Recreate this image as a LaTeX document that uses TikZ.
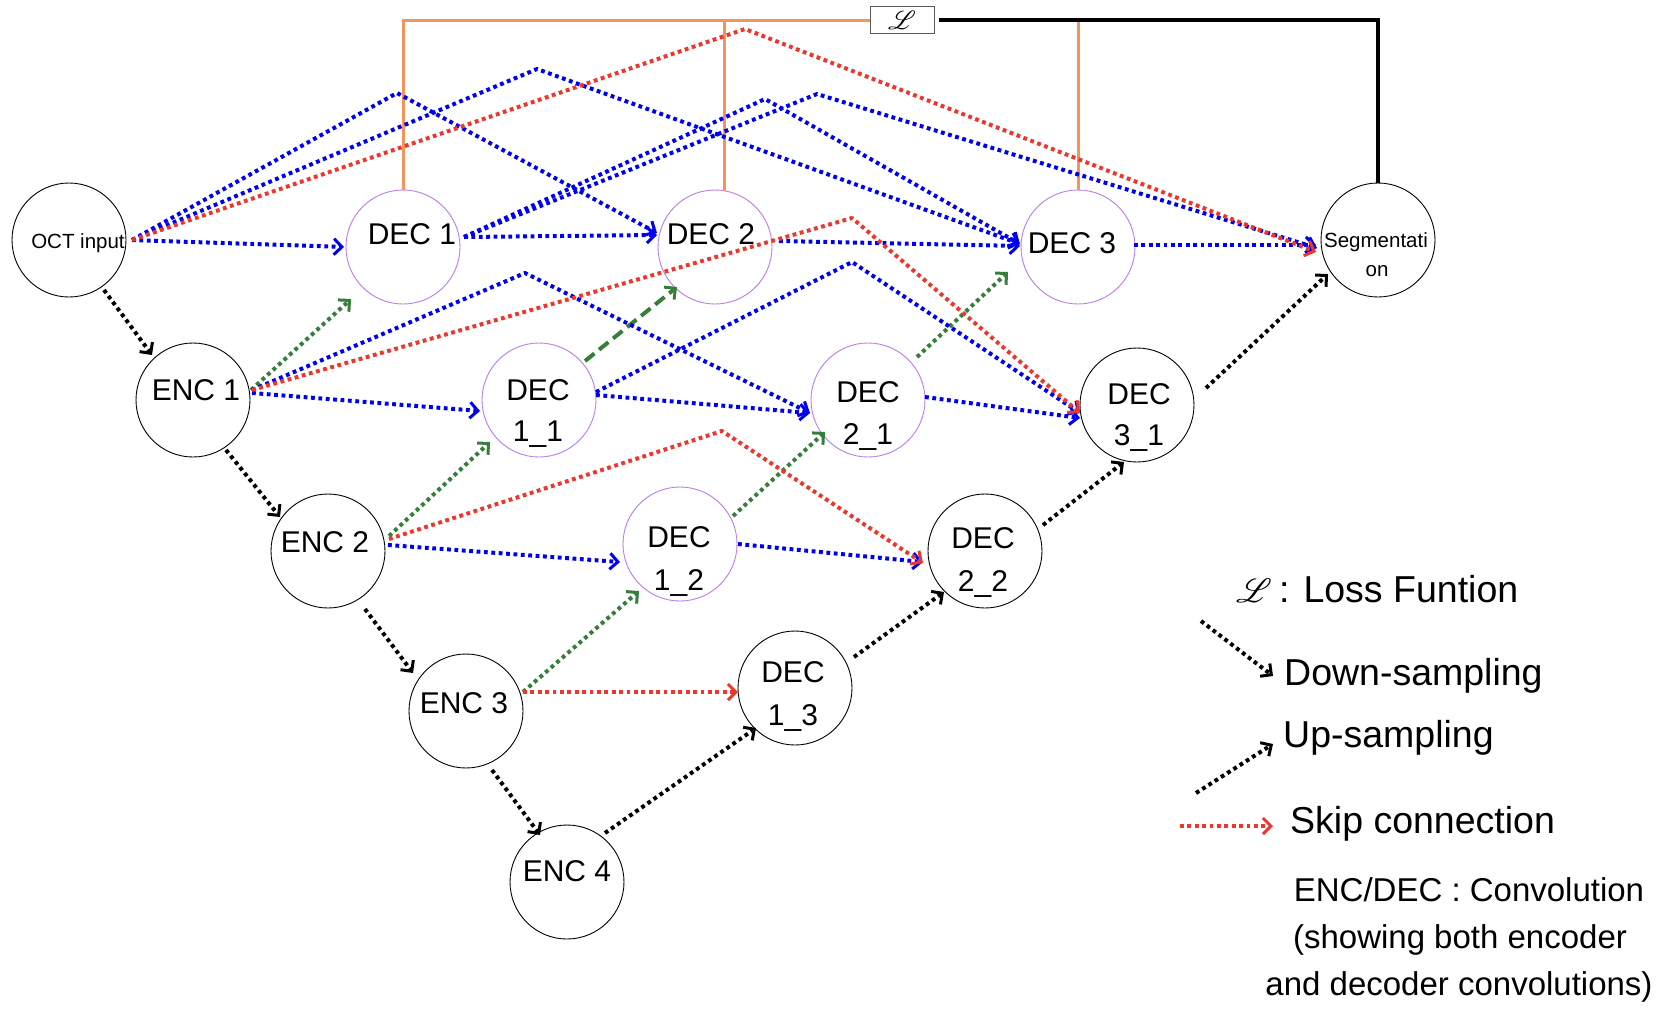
\documentclass[tikz,border=0pt]{standalone}
\usepackage{fontspec}
\setmainfont{Liberation Sans}
\usepackage{mathrsfs}
\usetikzlibrary{arrows.meta,calc}
\definecolor{cblue}{RGB}{0,0,240}
\definecolor{cred}{RGB}{235,55,45}
\definecolor{cgreen}{RGB}{55,125,60}
\definecolor{cpurple}{RGB}{187,125,230}
\definecolor{corange}{RGB}{241,149,92}
\begin{document}
\begin{tikzpicture}[x=1pt,y=-1pt,
  circ/.style={circle,draw=black,line width=0.9pt,minimum size=114pt,inner sep=0pt},
  pcirc/.style={circ,draw=cpurple},
  lab/.style={font=\fontsize{30}{36}\selectfont,anchor=base,inner sep=0pt},
  sml/.style={font=\fontsize{20.5}{24}\selectfont,anchor=base,inner sep=0pt},
  leg/.style={font=\fontsize{37.5}{42}\selectfont,anchor=base west,inner sep=0pt},
  legc/.style={font=\fontsize{33}{40}\selectfont,anchor=base,inner sep=0pt},
  ahead/.style={-{Straight Barb[length=8pt,width=16pt,line width=3pt]}},
  conn/.style={line width=4pt,dash pattern=on 3.8pt off 3.6pt,line join=round,ahead},
  bl/.style={conn,draw=cblue},
  rd/.style={conn,draw=cred},
  gr/.style={conn,draw=cgreen},
  grd/.style={conn,draw=cgreen,dash pattern=on 12pt off 6pt},
  bk/.style={conn,draw=black},
  orng/.style={draw=corange,line width=3pt},
  blk/.style={draw=black,line width=4pt}]
\useasboundingbox (0,0) rectangle (1674,1013);

% nodes
\node[circ]  (oct)  at (69,240) {};
\node[pcirc] (dec1) at (403,247) {};
\node[pcirc] (dec2) at (715,247) {};
\node[pcirc] (dec3) at (1078,247) {};
\node[circ]  (seg)  at (1378,240) {};
\node[circ]  (enc1) at (193,400) {};
\node[pcirc] (d11)  at (539,400) {};
\node[pcirc] (d21)  at (868,400) {};
\node[circ]  (d31)  at (1137,405) {};
\node[circ]  (enc2) at (328,551) {};
\node[pcirc] (d12)  at (680,544) {};
\node[circ]  (d22)  at (985,551) {};
\node[circ]  (enc3) at (466,711) {};
\node[circ]  (d13)  at (795,688) {};
\node[circ]  (enc4) at (567,882) {};

% labels
\node[sml] (toct) at (78,248) {OCT input};
\node[lab] (tdec1) at (412,244) {DEC 1};
\node[lab] (tdec2) at (711,244) {DEC 2};
\node[lab] (tdec3) at (1072,253) {DEC 3};
\node[sml] (tseg1) at (1376,247) {Segmentati};
\node[sml] (tseg2) at (1377,276) {on};
\node[lab] (tenc1) at (196,400) {ENC 1};
\node[lab] (tenc2) at (325,552) {ENC 2};
\node[lab] (tenc3) at (464,713) {ENC 3};
\node[lab] (tenc4) at (567,881) {ENC 4};
\node[lab] (td11a) at (538,400) {DEC};
\node[lab] (td11b) at (538,441) {1\_1};
\node[lab] (td21a) at (868,402) {DEC};
\node[lab] (td21b) at (868,444) {2\_1};
\node[lab] (td31a) at (1139,404) {DEC};
\node[lab] (td31b) at (1139,445) {3\_1};
\node[lab] (td12a) at (679,547) {DEC};
\node[lab] (td12b) at (679,590) {1\_2};
\node[lab] (td22a) at (983,548) {DEC};
\node[lab] (td22b) at (983,591) {2\_2};
\node[lab] (td13a) at (793,682) {DEC};
\node[lab] (td13b) at (793,725) {1\_3};

% loss box and lines
\node[draw=gray!70!black,line width=1pt,fill=white,minimum width=64pt,minimum height=27pt,inner sep=0pt] (loss) at (902,20) {\scalebox{1.05}{\fontsize{24.88}{30}\selectfont$\mathscr{L}$}};
\draw[orng] (dec1.north) |- (loss.west);
\draw[orng] ($(dec2.north)+(9,1)$) |- (loss.west);
\draw[orng] (dec3.north) -- (dec3.north |- loss.east);
\draw[blk] ($(loss.east)+(4,0)$) -| (seg.north);

% bend points
\coordinate (p1) at (397,93);
\coordinate (p2) at (537,69);
\coordinate (p3) at (745,29);
\coordinate (p4) at (765,99);
\coordinate (p5) at (817,94);
\coordinate (p6) at (525,273);
\coordinate (p7) at (852,262);
\coordinate (p8) at (852,218);
\coordinate (p9) at (722,431);

% black: down/up sampling
\draw[bk] ($(oct)+(35,50)$) -- ($(enc1)+(-41,-45)$);
\draw[bk] ($(enc1)+(33,50)$) -- ($(enc2)+(-48,-34)$);
\draw[bk] ($(enc2)+(37,58)$) -- ($(enc3)+(-53,-38)$);
\draw[bk] ($(enc3)+(26,59)$) -- ($(enc4)+(-27,-47)$);
\draw[bk] ($(enc4)+(38,-49)$) -- ($(d13)+(-39,40)$);
\draw[bk] ($(d13)+(59,-31)$) -- ($(d22)+(-41,41)$);
\draw[bk] ($(d22)+(58,-26)$) -- ($(d31)+(-13,57)$);
\draw[bk] ($(d31)+(69,-17)$) -- ($(seg)+(-50,34)$);

% green: up-sampling
\draw[gr]  ($(enc1)+(58,-10)$) -- ($(dec1)+(-52,52)$);
\draw[grd] ($(d11)+(46,-39)$) -- ($(dec2)+(-38,40)$);
\draw[gr]  ($(enc2)+(61,-15)$) -- ($(d11)+(-49,42)$);
\draw[gr]  ($(d12)+(53,-28)$) -- ($(d21)+(-43,32)$);
\draw[gr]  ($(enc3)+(57,-19)$) -- ($(d12)+(-41,47)$);
\draw[gr]  ($(d21)+(49,-43)$) -- ($(dec3)+(-70,25)$);

% blue: dense skip connections
\draw[bl] ($(oct)+(63,0)$) -- ($(dec1)+(-59,0)$);
\draw[bl] ($(oct)+(63,0)$) -- (p1) -- ($(dec2)+(-58,-14)$);
\draw[bl] ($(oct)+(63,0)$) -- (p2) -- ($(dec3)+(-58,-3)$);
\draw[bl] ($(dec1)+(61,-10)$) -- ($(dec2)+(-58,-12)$);
\draw[bl] ($(dec1)+(61,-10)$) -- (p4) -- ($(dec3)+(-58,-3)$);
\draw[bl] ($(dec1)+(61,-10)$) -- (p5) -- ($(seg)+(-61,8)$);
\draw[bl] ($(dec2)+(64,-6)$) -- ($(dec3)+(-58,-1)$);
\draw[bl] ($(dec3)+(56,-2)$) -- ($(seg)+(-62,5)$);
\draw[bl] ($(enc1)+(59,-7)$) -- ($(d11)+(-59,11)$);
\draw[bl] ($(enc1)+(59,-10)$) -- (p6) -- ($(d21)+(-58,13)$);
\draw[bl] ($(d11)+(57,-5)$) -- ($(d21)+(-58,13)$);
\draw[bl] ($(d11)+(57,-8)$) -- (p7) -- ($(d31)+(-57,8)$);
\draw[bl] ($(d21)+(57,-3)$) -- ($(d31)+(-57,13)$);
\draw[bl] ($(enc2)+(60,-6)$) -- ($(d12)+(-60,18)$);
\draw[bl] ($(d12)+(58,0)$) -- ($(d22)+(-62,11)$);

% red: skip connections
\draw[rd] ($(oct)+(63,0)$) -- (p3) -- ($(seg)+(-62,12)$);
\draw[rd] ($(enc1)+(59,-10)$) -- (p8) -- ($(d31)+(-57,8)$);
\draw[rd] ($(enc2)+(61,-12)$) -- (p9) -- ($(d22)+(-62,12)$);
\draw[rd] ($(enc3)+(57,-19)$) -- ($(d13)+(-57,4)$);

% legend
\coordinate (ld1) at (1201,621);
\coordinate (ld2) at (1273,676);
\coordinate (lu1) at (1196,793);
\coordinate (lu2) at (1273,744);
\coordinate (ls1) at (1180,826);
\coordinate (ls2) at (1273,826);
\draw[bk] (ld1) -- (ld2);
\draw[bk] (lu1) -- (lu2);
\draw[rd,line width=3.5pt] (ls1) -- (ls2);
\node[leg] (lL) at (1236,602) {\scalebox{1.35}{\fontsize{24.88}{30}\selectfont$\mathscr{L}$}};
\node[leg] (lloss) at (1279,602) {: Loss Funtion};
\node[leg] (ldown) at (1284,685) {Down-sampling};
\node[leg] (lup) at (1283,747) {Up-sampling};
\node[leg] (lskip) at (1290,833) {Skip connection};
\node[legc] (lc1) at (1469,901) {ENC/DEC : Convolution};
\node[legc] (lc2) at (1460,948) {(showing both encoder};
\node[legc] (lc3) at (1459,995) {and decoder convolutions)};
\end{tikzpicture}
\end{document}
